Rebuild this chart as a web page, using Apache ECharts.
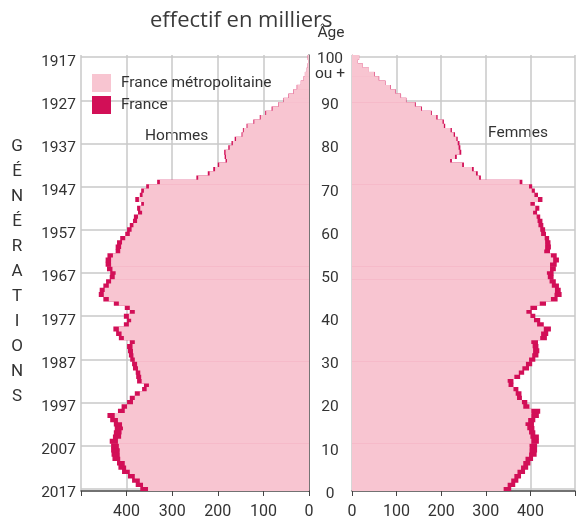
<!DOCTYPE html>
<html>
<head>
<meta charset="utf-8">
<script src="https://cdn.jsdelivr.net/npm/echarts@6/dist/echarts.min.js"></script>
<style>
html, body { margin: 0; padding: 0; background: #fff; }
#chart { width: 578px; height: 520px; }
</style>
</head>
<body>
<div id="chart"></div>
<script>
// âges révolus 0 .. 100 (100 = "100 ou +")
const ages = []
for (let a = 0; a <= 100; a++) ages.push(String(a))
const lastGeneration = 2017
const axisTicks = [0, 100, 200, 300, 400]

// effectifs en milliers, hommes
const menMetro = [353, 364, 371, 382, 393, 401, 404, 414, 415, 415,
	417, 419, 412, 411, 408, 410, 419, 426, 404, 399,
	386, 382, 371, 356, 351, 367, 368, 370, 375, 377,
	382, 385, 386, 387, 382, 406, 411, 417, 395, 390,
	395, 382, 393, 417, 439, 450, 448, 439, 434, 426,
	424, 431, 434, 434, 430, 414, 412, 410, 403, 393,
	389, 385, 377, 375, 366, 370, 362, 373, 365, 362,
	351, 327, 243, 218, 206, 197, 180, 182, 183, 174,
	167, 160, 146, 143, 135, 120, 106, 94, 80, 66,
	55, 44, 33, 26, 18, 12, 9, 5, 3, 2,
	3]
const menFrance = [370, 380, 388, 397, 410, 418, 421, 431, 433, 434,
	434, 437, 430, 428, 426, 428, 436, 442, 419, 411,
	399, 393, 382, 366, 362, 377, 379, 380, 386, 388,
	392, 395, 397, 399, 393, 417, 423, 429, 406, 399,
	406, 393, 404, 428, 451, 461, 459, 451, 445, 437,
	436, 443, 446, 446, 442, 424, 424, 421, 414, 403,
	399, 393, 386, 384, 375, 377, 368, 381, 371, 368,
	357, 333, 247, 222, 210, 200, 183, 185, 186, 177,
	170, 163, 148, 145, 137, 122, 108, 96, 82, 67,
	56, 45, 34, 27, 18, 12, 9, 5, 3, 2,
	3]

// effectifs en milliers, femmes
const womenMetro = [340, 349, 357, 364, 371, 379, 384, 389, 397, 398,
	398, 402, 400, 397, 393, 389, 395, 402, 402, 384,
	381, 370, 367, 362, 351, 349, 364, 374, 382, 390,
	397, 404, 406, 405, 402, 422, 424, 430, 415, 408,
	400, 391, 400, 421, 446, 454, 455, 448, 443, 439,
	437, 444, 444, 451, 446, 431, 433, 433, 432, 424,
	422, 418, 416, 414, 406, 411, 400, 417, 409, 403,
	397, 376, 285, 278, 269, 247, 220, 231, 241, 239,
	237, 234, 228, 221, 206, 203, 189, 177, 155, 141,
	121, 109, 97, 86, 74, 60, 50, 38, 24, 13,
	16]
const womenFrance = [357, 366, 373, 379, 388, 395, 400, 406, 414, 415,
	415, 419, 419, 411, 409, 408, 411, 419, 422, 398,
	393, 381, 380, 373, 362, 362, 377, 386, 397, 404,
	411, 418, 420, 418, 417, 437, 440, 446, 430, 422,
	411, 403, 415, 435, 461, 470, 468, 464, 457, 452,
	452, 457, 459, 464, 459, 444, 446, 445, 442, 435,
	433, 429, 427, 422, 415, 420, 410, 427, 417, 410,
	404, 382, 289, 282, 273, 251, 224, 235, 245, 243,
	241, 237, 231, 224, 209, 206, 192, 179, 157, 143,
	122, 110, 98, 87, 75, 61, 51, 38, 24, 13,
	16]

const pink = '#f8c5d1'
const crimson = '#d20f57'
const grey = '#c8c8c8'
const textColor = '#333'
const narrow = "Roboto, 'Liberation Sans', sans-serif"
const fontSize = 15.5

const everyTen = i => i % 10 === 0

function xAxisFor(gridIndex, inverse) {
	return {
		gridIndex: gridIndex,
		type: 'value',
		inverse: inverse,
		min: 0,
		max: 500,
		interval: 100,
		axisLine: { show: true, onZero: false, lineStyle: { color: '#444', width: 1.5 } },
		axisTick: { show: true, length: 5, lineStyle: { color: '#444' } },
		axisLabel: {
			fontFamily: narrow, fontSize: 16, color: textColor, margin: 13,
			formatter: v => axisTicks.indexOf(v) >= 0 ? String(v) : ''
		},
		splitLine: { show: true, lineStyle: { color: grey, width: 1.5 } }
	}
}

function yAxisFor(gridIndex, label, line) {
	return {
		gridIndex: gridIndex,
		type: 'category',
		data: ages,
		position: 'left',
		axisLine: line,
		axisTick: { show: false },
		axisLabel: Object.assign({
			interval: everyTen,
			fontFamily: narrow, fontSize: fontSize, color: textColor
		}, label),
		splitLine: { show: true, interval: everyTen, alignWithLabel: true, lineStyle: { color: grey, width: 1.5 } }
	}
}

// barWidth a bit wider than the band so neighbouring bars overlap (no seams)
function barSeries(name, data, color, axis, z) {
	return {
		name: name,
		type: 'bar',
		xAxisIndex: axis,
		yAxisIndex: axis,
		data: data,
		barGap: '-100%',
		barWidth: 5,
		itemStyle: { color: color },
		z: z,
		silent: true
	}
}

const chart = echarts.init(document.getElementById('chart'), null, { renderer: 'canvas' })

chart.setOption({
	animation: false,
	grid: [
		{ left: 81, top: 55, width: 228, height: 439 },
		{ left: 352, top: 55, width: 228, height: 439 }
	],
	legend: {
		orient: 'vertical',
		left: 87,
		top: 69,
		itemWidth: 19,
		itemHeight: 18,
		itemGap: 4,
		icon: 'rect',
		selectedMode: false,
		data: ['France métropolitaine', 'France'],
		textStyle: { fontFamily: narrow, fontSize: fontSize, color: textColor, padding: [0, 0, 0, 5] }
	},
	xAxis: [xAxisFor(0, true), xAxisFor(1, false)],
	yAxis: [
		yAxisFor(0, {
			margin: 5,
			formatter: v => '{s| }\n{y|' + (lastGeneration - Number(v)) + '}',
			rich: { s: { lineHeight: 9, fontSize: 9 }, y: { lineHeight: 18, fontFamily: narrow, fontSize: fontSize, color: textColor } }
		}, { show: true, lineStyle: { color: '#555', width: 1.5 } }),
		yAxisFor(1, {
			margin: 22,
			align: 'center',
			lineHeight: 15,
			padding: [10, 0, 0, 0],
			formatter: v => v === '100' ? '{s| }\n100\nou +' : v,
			rich: { s: { lineHeight: 9, fontSize: 9 } }
		}, { show: true, lineStyle: { color: '#d88aa4', width: 1, type: 'dashed' } })
	],
	series: [
		barSeries('France', menFrance, crimson, 0, 2),
		barSeries('France métropolitaine', menMetro, pink, 0, 3),
		barSeries('France', womenFrance, crimson, 1, 2),
		barSeries('France métropolitaine', womenMetro, pink, 1, 3)
	],
	graphic: [
		{ type: 'text', x: 150, y: 21, style: { text: 'effectif en milliers', fontFamily: "'Open Sans', 'Noto Sans', sans-serif", fontSize: 22, fill: '#3a3a3a', verticalAlign: 'middle' } },
		{ type: 'text', x: 331, y: 33, style: { text: 'Âge', fontFamily: narrow, fontSize: fontSize, fill: textColor, align: 'center', verticalAlign: 'middle' } },
		{ type: 'text', x: 145, y: 136, style: { text: 'Hommes', fontFamily: narrow, fontSize: fontSize, fill: textColor, verticalAlign: 'middle' } },
		{ type: 'text', x: 488, y: 133, style: { text: 'Femmes', fontFamily: narrow, fontSize: fontSize, fill: textColor, verticalAlign: 'middle' } },
		{ type: 'text', x: 17, y: 134.5, style: { text: 'GÉNÉRATIONS'.split('').join('\n'), fontFamily: narrow, fontSize: 17, lineHeight: 25, fill: textColor, align: 'center', verticalAlign: 'top' } }
	]
})
</script>
</body>
</html>
